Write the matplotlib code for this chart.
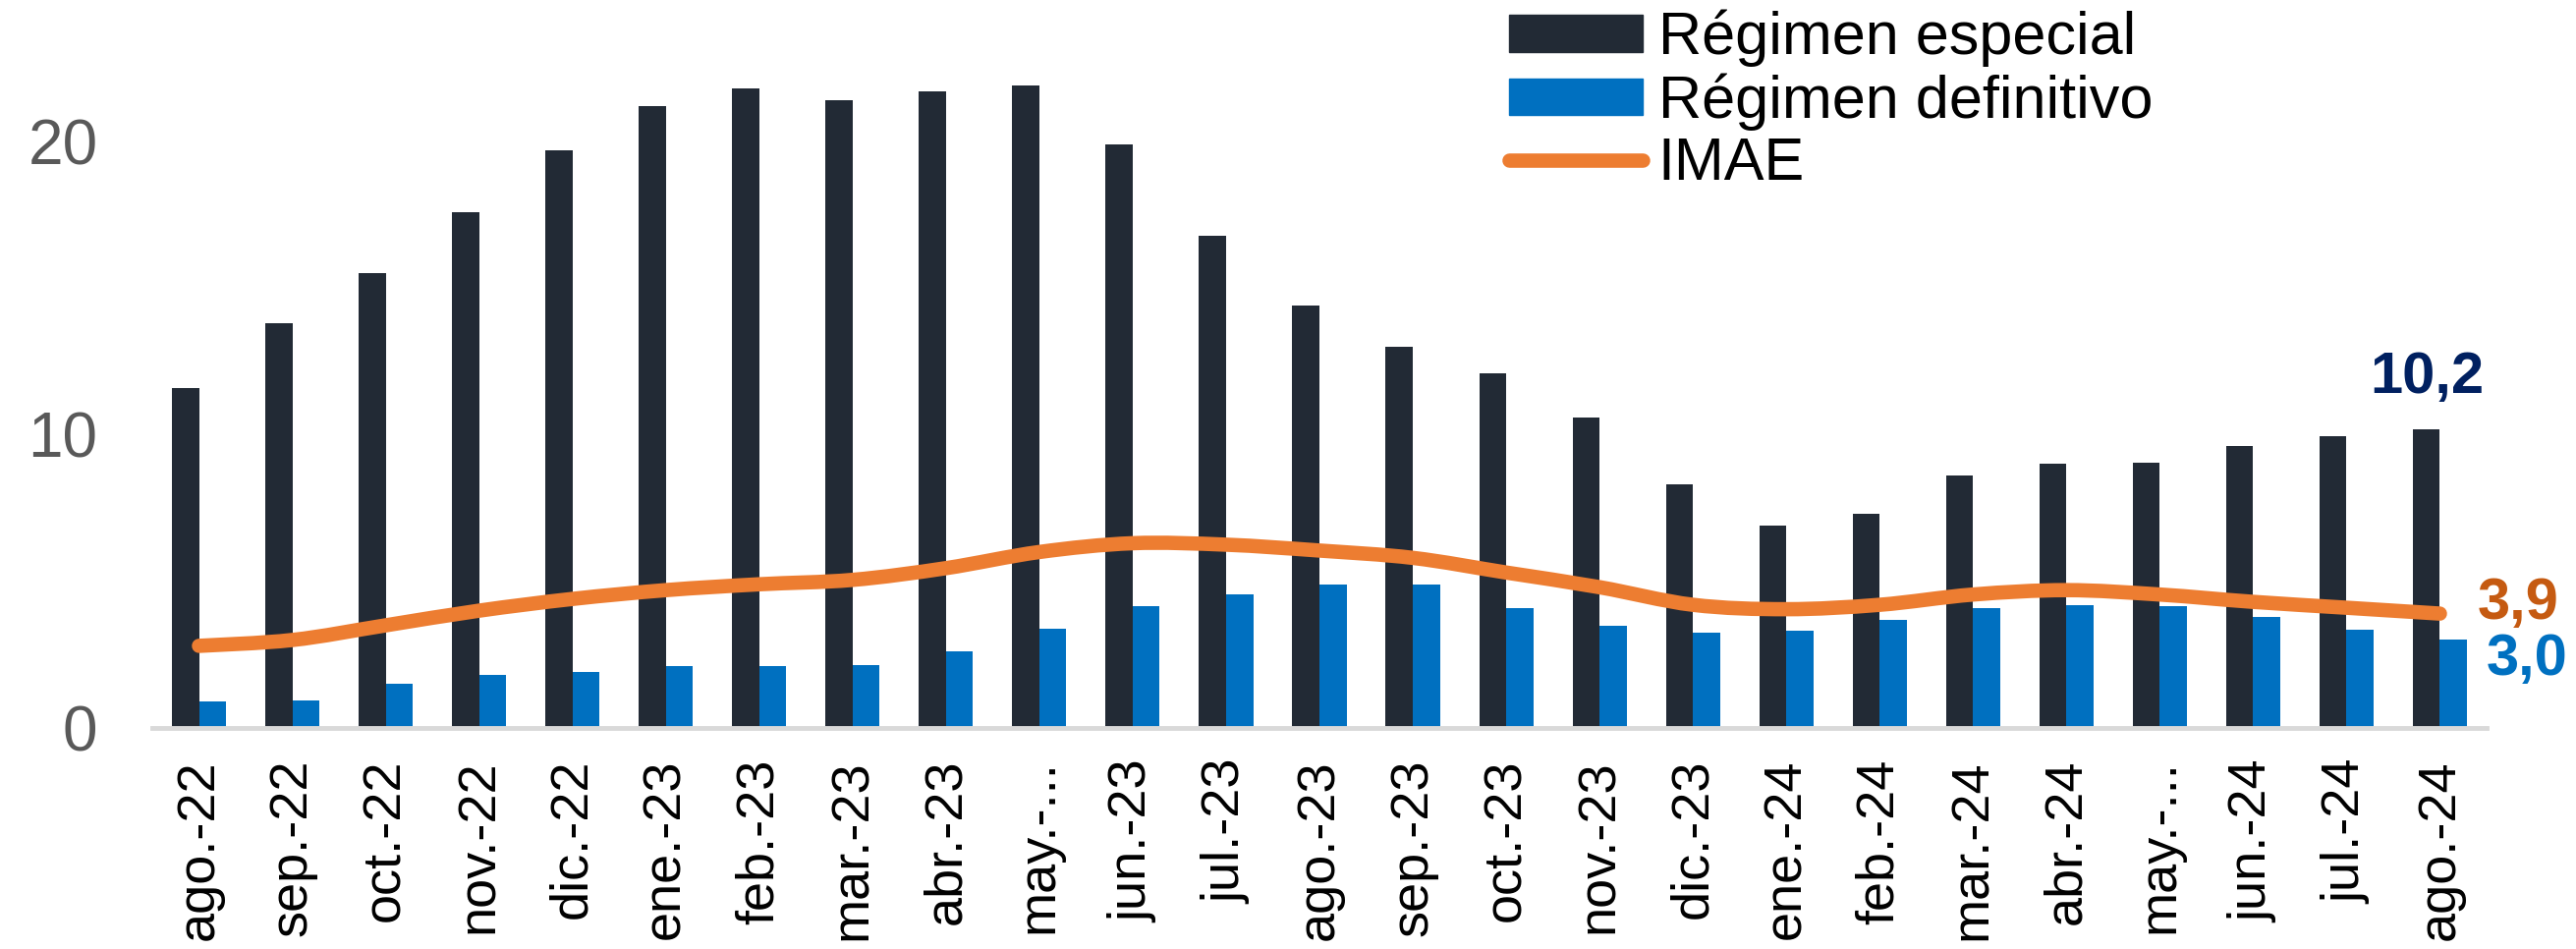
import matplotlib
matplotlib.use("Agg")
import matplotlib.pyplot as plt
from matplotlib.path import Path
from matplotlib.patches import PathPatch
from matplotlib.lines import Line2D
import numpy as np

months = ["ago.-22", "sep.-22", "oct.-22", "nov.-22", "dic.-22", "ene.-23", "feb.-23",
          "mar.-23", "abr.-23", "may.-...", "jun.-23", "jul.-23", "ago.-23", "sep.-23",
          "oct.-23", "nov.-23", "dic.-23", "ene.-24", "feb.-24", "mar.-24", "abr.-24",
          "may.-...", "jun.-24", "jul.-24", "ago.-24"]
especial = [11.6, 13.8, 15.5, 17.6, 19.7, 21.2, 21.8, 21.4, 21.7, 21.9, 19.9, 16.8,
            14.4, 13.0, 12.1, 10.6, 8.3, 6.9, 7.3, 8.6, 9.0, 9.05, 9.6, 9.95, 10.2]
definitivo = [0.9, 0.95, 1.5, 1.8, 1.9, 2.1, 2.1, 2.15, 2.6, 3.4, 4.15, 4.55, 4.9, 4.9,
              4.1, 3.5, 3.25, 3.3, 3.7, 4.1, 4.2, 4.15, 3.8, 3.35, 3.0]
imae = [2.8, 3.0, 3.5, 4.0, 4.4, 4.7, 4.9, 5.05, 5.45, 6.0, 6.3, 6.25, 6.05, 5.8, 5.3,
        4.8, 4.2, 4.05, 4.2, 4.55, 4.7, 4.55, 4.3, 4.1, 3.9]
series_names = ["Régimen especial", "Régimen definitivo", "IMAE"]
end_labels = ["10,2", "3,9", "3,0"]
yticks = [0, 10, 20]

C_ESP = "#222a35"
C_DEF = "#0070c0"
C_IMAE = "#ed7d31"

W, H = 2622, 966
fig = plt.figure(figsize=(W / 100, H / 100), dpi=100)
ax = fig.add_axes([155 / W, 225 / H, (2531 - 155) / W, 741 / H])

x = np.arange(len(months))
bw = 0.29
ax.bar(x - bw / 2, especial, width=bw, color=C_ESP, label=series_names[0], zorder=2)
ax.bar(x + bw / 2, definitivo, width=bw, color=C_DEF, label=series_names[1], zorder=2)

# smooth line (Catmull-Rom -> cubic Bezier)
pts = np.column_stack([x, imae]).astype(float)
verts = [pts[0]]
codes = [Path.MOVETO]
n = len(pts)
for i in range(n - 1):
    p0 = pts[max(i - 1, 0)]
    p1 = pts[i]
    p2 = pts[i + 1]
    p3 = pts[min(i + 2, n - 1)]
    c1 = p1 + (p2 - p0) / 6.0
    c2 = p2 - (p3 - p1) / 6.0
    verts += [c1, c2, p2]
    codes += [Path.CURVE4] * 3
patch = PathPatch(Path(verts, codes), facecolor="none", edgecolor=C_IMAE, lw=10.5,
                  capstyle="round", joinstyle="round", zorder=3)
ax.add_patch(patch)

ax.set_xlim(-0.5, 24.5)
ax.set_ylim(0, 741 / 29.85)

for s in ["top", "right", "left"]:
    ax.spines[s].set_visible(False)
ax.spines["bottom"].set_color("#d9d9d9")
ax.spines["bottom"].set_linewidth(3.5)
ax.spines["bottom"].set_zorder(4)

ax.set_yticks(yticks)
ax.set_yticklabels([str(v) for v in yticks], fontsize=46, color="#595959",
                   family=["Liberation Sans", "DejaVu Sans"])
ax.tick_params(axis="y", length=0, pad=40)
ax.set_xticks(x)
ax.set_xticklabels(months, rotation=90, fontsize=39, color="#000000",
                   family=["Liberation Sans", "DejaVu Sans"], va="top", ha="center")
ax.tick_params(axis="x", length=0, pad=23)

# end labels
ax.text(23.86, 11.42, end_labels[0], color="#002060", fontsize=43, fontweight="bold",
        ha="center", va="baseline", family=["Liberation Sans", "DejaVu Sans"])
ax.text(24.84, 3.72, end_labels[1], color="#c55a11", fontsize=43, fontweight="bold",
        ha="center", va="baseline", family=["Liberation Sans", "DejaVu Sans"])
ax.text(24.93, 1.81, end_labels[2], color=C_DEF, fontsize=43, fontweight="bold",
        ha="center", va="baseline", family=["Liberation Sans", "DejaVu Sans"])

handles = [plt.Rectangle((0, 0), 1, 1, color=C_ESP),
           plt.Rectangle((0, 0), 1, 1, color=C_DEF),
           Line2D([0], [0], color=C_IMAE, lw=10.5, solid_capstyle="round")]
leg = fig.legend(handles, series_names, loc="upper left",
                 bbox_to_anchor=(1536 / W, 1 - 10 / H), frameon=False,
                 prop={"family": ["Liberation Sans", "DejaVu Sans"], "size": 44},
                 handlelength=2.23, handleheight=0.56, handletextpad=0.25,
                 labelspacing=0.1, borderpad=0, borderaxespad=0)

fig.savefig("out.png", dpi=100)
